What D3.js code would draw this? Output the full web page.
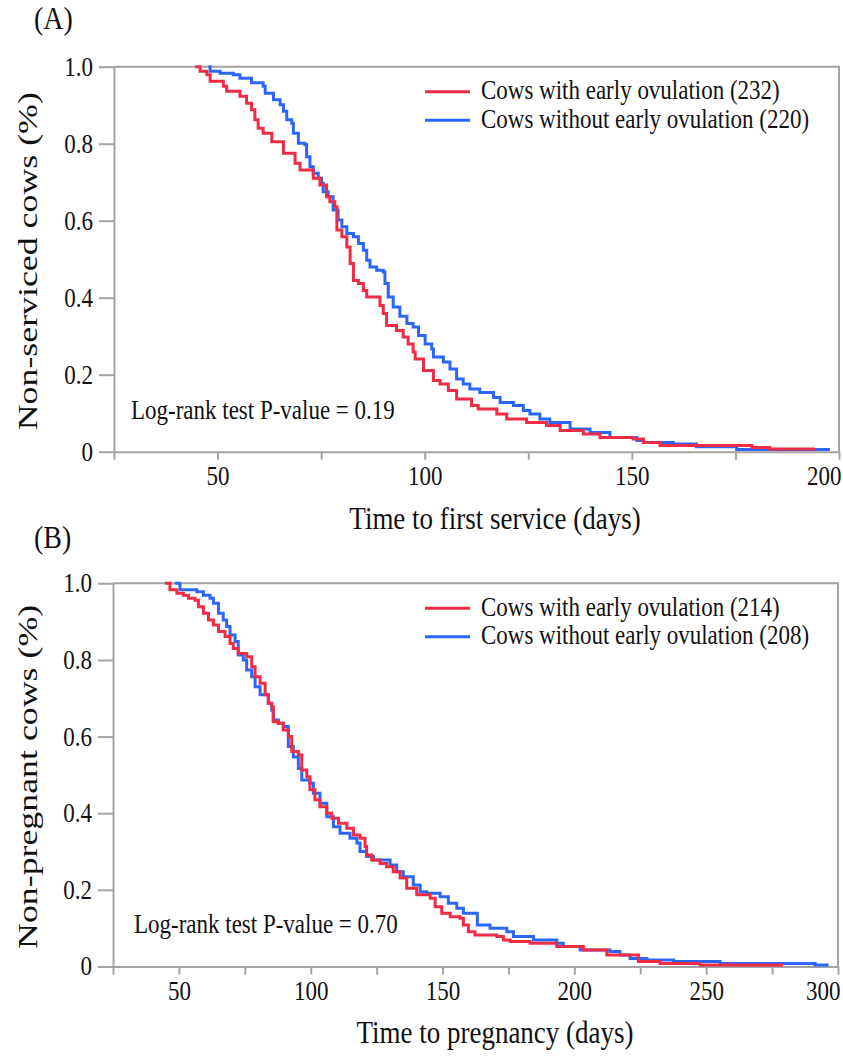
<!DOCTYPE html>
<html>
<head>
<meta charset="utf-8">
<script src="https://cdn.jsdelivr.net/npm/d3@7"></script>
<style>
    body { margin: 0; background: #fff; }
    svg text { font-family: "Liberation Serif", "Times New Roman", serif; fill: #111; }
    .axis path, .axis line { stroke: #a3a3a3; stroke-width: 2; }
    .frame { stroke: #a3a3a3; stroke-width: 2; }
</style>
</head>
<body>
<div id="chart"></div>
<script>
// ---- data: [day, proportion still not serviced / not pregnant]
const yTicks = [0, 0.2, 0.4, 0.6, 0.8, 1.0];
const xTicksA = [25, 50, 75, 100, 125, 150, 175, 200];
const xTicksB = [25, 50, 75, 100, 125, 150, 175, 200, 225, 250, 275, 300];

const legendA = ["Cows with early ovulation (232)", "Cows without early ovulation (220)"];
const legendB = ["Cows with early ovulation (214)", "Cows without early ovulation (208)"];

const earlyA = [[44.6,1],[45.8,0.988],[47.4,0.979],[48.2,0.962],[51.4,0.949],[52.2,0.936],[55.4,0.923],[57.0,0.905],
    [58.2,0.888],[59.0,0.862],[59.8,0.840],[61.0,0.827],[63.1,0.805],[65.9,0.775],[68.7,0.749],[69.9,0.732],
    [73.1,0.710],[74.7,0.693],[76.3,0.662],[77.1,0.649],[78.3,0.636],[78.8,0.576],[80.0,0.558],[81.2,0.532],
    [82.0,0.489],[82.8,0.445],[84.0,0.437],[85.2,0.419],[86.0,0.402],[89.2,0.380],[90.0,0.359],[90.8,0.328],
    [93.2,0.315],[94.8,0.298],[96.0,0.280],[97.2,0.259],[97.7,0.241],[99.7,0.211],[102.1,0.185],[103.7,0.176],
    [105.7,0.159],[107.7,0.137],[111.3,0.120],[112.9,0.111],[117.4,0.098],[119.8,0.085],[124.6,0.076],
    [129.4,0.068],[132.7,0.055],[138.3,0.046],[142.3,0.037],[150.3,0.033],[152.8,0.024],[156.8,0.016],
    [179.0,0.011],[183.3,0.007],[194.2,0.007]];

const noEarlyA = [[47.8,1],[48.2,0.988],[50.6,0.983],[53.8,0.979],[55.4,0.970],[58.2,0.958],[61.0,0.949],
    [61.5,0.931],[63.5,0.914],[65.1,0.901],[65.9,0.884],[66.7,0.862],[67.9,0.853],[68.3,0.827],[69.5,0.801],
    [71.1,0.797],[71.5,0.766],[72.3,0.740],[73.1,0.723],[74.3,0.710],[75.1,0.697],[75.5,0.675],[76.7,0.662],
    [77.9,0.628],[79.1,0.602],[80.0,0.584],[81.2,0.567],[82.8,0.558],[84.0,0.541],[85.2,0.523],[86.0,0.497],
    [86.8,0.480],[88.4,0.471],[90.0,0.467],[90.4,0.437],[91.2,0.402],[92.4,0.376],[94.0,0.352],[95.7,0.333],
    [97.2,0.324],[98.5,0.302],[100.1,0.280],[101.7,0.267],[102.1,0.246],[104.5,0.233],[106.1,0.215],
    [107.7,0.189],[109.3,0.176],[110.9,0.163],[113.3,0.154],[116.6,0.141],[118.2,0.128],[121.4,0.120],
    [123.8,0.107],[125.4,0.098],[127.8,0.085],[130.2,0.076],[135.1,0.059],[139.9,0.050],[144.7,0.037],
    [151.2,0.029],[152.8,0.024],[160.0,0.020],[165.6,0.013],[175.3,0.006],[197.8,0.006]];

const earlyB = [[44.7,1],[46.6,0.983],[49.2,0.974],[51.7,0.969],[53.6,0.961],[56.1,0.956],[57.4,0.939],
    [59.3,0.922],[61.2,0.904],[63.1,0.891],[65.0,0.874],[67.5,0.861],[69.4,0.843],[70.6,0.830],[72.5,0.817],
    [75.7,0.808],[77.6,0.782],[78.9,0.756],[80.8,0.739],[82.7,0.709],[83.9,0.687],[85.2,0.678],[85.8,0.639],
    [87.7,0.635],[89.6,0.617],[91.5,0.600],[92.8,0.561],[95.3,0.552],[96.6,0.513],[98.5,0.495],[99.7,0.461],
    [101.6,0.435],[103.5,0.417],[106.1,0.400],[108.0,0.387],[110.5,0.374],[113.7,0.361],[116.2,0.343],
    [118.7,0.335],[120.6,0.313],[121.2,0.291],[123.1,0.278],[126.3,0.269],[128.8,0.260],[131.3,0.247],
    [133.9,0.231],[136.4,0.204],[140.2,0.187],[145.3,0.178],[147.2,0.156],[149.7,0.139],[152.9,0.130],
    [156.6,0.126],[157.9,0.108],[159.8,0.091],[162.3,0.082],[170.6,0.078],[173.1,0.069],[175.6,0.065],
    [183.2,0.061],[193.3,0.052],[203.4,0.043],[212.3,0.030],[224.3,0.013],[232.5,0.008],[247.7,0.004],
    [279.2,0.004]];

const noEarlyB = [[48.5,1],[50.4,0.983],[56.8,0.978],[59.3,0.969],[61.8,0.961],[63.1,0.948],[65.0,0.922],
    [66.8,0.904],[68.1,0.887],[69.4,0.865],[71.3,0.848],[72.5,0.813],[74.4,0.800],[75.7,0.774],[77.6,0.756],
    [78.9,0.730],[80.8,0.709],[83.9,0.687],[85.2,0.669],[85.8,0.643],[87.7,0.635],[89.6,0.626],[91.5,0.574],
    [93.4,0.547],[95.3,0.517],[96.6,0.487],[99.7,0.478],[101.0,0.452],[103.5,0.426],[106.1,0.391],
    [108.6,0.365],[111.1,0.348],[114.9,0.335],[117.5,0.322],[118.7,0.300],[121.2,0.287],[123.8,0.278],
    [130.1,0.265],[132.6,0.247],[135.1,0.234],[138.9,0.213],[141.5,0.195],[144.0,0.191],[149.1,0.182],
    [152.2,0.165],[155.4,0.152],[157.9,0.139],[163.2,0.108],[168.0,0.100],[174.4,0.091],[176.9,0.078],
    [184.5,0.069],[193.3,0.061],[195.8,0.052],[202.2,0.043],[213.5,0.039],[217.3,0.030],[221.1,0.021],
    [227.5,0.017],[237.6,0.013],[255.3,0.008],[291.3,0.004],[296.4,0.004]];

const colEarly = "#ee2c46";
const colNoEarly = "#2c66f7";

// the original figure's lettering is a bit taller than it is wide
const textStretch = 1.15;

function stretchText(sel, k) {
    sel.each(function () {
        let t = d3.select(this);
        let x = +t.attr("x") || 0, y = +t.attr("y") || 0;
        t.attr("transform", `translate(${x},${y}) scale(1,${k}) translate(${-x},${-y})`);
    });
}

class KMPanel {
    constructor(_svg, _cfg) {
        this.svg = _svg;
        this.cfg = _cfg;
        this.initVis();
    }

    initVis() {
        let vis = this;
        let c = vis.cfg;

        vis.x = d3.scaleLinear().domain([c.xTicks[0], c.xTicks[c.xTicks.length - 1]]).range([c.left, c.right]);
        vis.y = d3.scaleLinear().domain([0, 1]).range([c.bottom, c.top]);

        let g = vis.svg.append("g");

        // panel letter
        g.append("text").attr("class", "st").attr("x", 34).attr("y", c.letterY)
            .style("font-size", "28px").text(c.letter);

        // top + right border
        g.append("path").attr("class", "frame").attr("fill", "none")
            .attr("d", `M${c.left},${c.top}H${c.right}V${c.bottom}`);

        // y axis
        let yAxis = d3.axisLeft(vis.y).tickValues(yTicks).tickSize(15).tickSizeOuter(0).tickPadding(6)
            .tickFormat(d => d === 0 ? "0" : d3.format(".1f")(d));
        g.append("g").attr("class", "axis y-axis")
            .attr("transform", `translate(${c.left},0)`)
            .call(yAxis)
            .selectAll("text").attr("class", "st").style("font-size", "23px").attr("fill", "#111");

        // x axis, labels only every 50 days
        let last = c.xTicks[c.xTicks.length - 1];
        let xAxis = d3.axisBottom(vis.x).tickValues(c.xTicks).tickSize(8).tickSizeOuter(0).tickPadding(7)
            .tickFormat(d => d % 50 === 0 ? d : "");
        let xg = g.append("g").attr("class", "axis x-axis")
            .attr("transform", `translate(0,${c.bottom})`)
            .call(xAxis);
        xg.selectAll("text").attr("class", "st").style("font-size", "23px").attr("fill", "#111");
        xg.selectAll(".tick").filter(d => d === last).select("text")
            .attr("text-anchor", "end").attr("dx", 2);

        // axis titles
        g.append("text").attr("class", "st").attr("x", 495).attr("y", c.bottom + c.titleGap)
            .attr("text-anchor", "middle").style("font-size", "27px").text(c.xTitle);
        g.append("text")
            .attr("transform", `translate(37,${(c.top + c.bottom) / 2 + 2}) scale(1,1.28) rotate(-90)`)
            .attr("text-anchor", "middle").style("font-size", "28px").text(c.yTitle);

        // p-value note
        g.append("text").attr("class", "st").attr("x", c.left + c.noteDx).attr("y", c.bottom - 33)
            .style("font-size", "23px").text(c.note);

        // legend
        let leg = g.selectAll(".legend-item")
            .data([{ label: c.legend[0], color: colEarly }, { label: c.legend[1], color: colNoEarly }])
            .enter().append("g")
            .attr("class", "legend-item")
            .attr("transform", (d, i) => `translate(425,${c.top + 25 + i * 28.5})`);
        leg.append("line").attr("x1", 0).attr("x2", 45)
            .attr("stroke", d => d.color).attr("stroke-width", 3);
        leg.append("text").attr("class", "st").attr("x", 56).attr("y", 7.5)
            .style("font-size", "23px").text(d => d.label);

        stretchText(g.selectAll("text.st"), textStretch);

        vis.updateVis();
    }

    updateVis() {
        let vis = this;
        let line = d3.line()
            .x(d => vis.x(d[0]))
            .y(d => vis.y(d[1]))
            .curve(d3.curveStepAfter);

        // blue underneath, red on top
        vis.svg.append("path").datum(vis.cfg.noEarly)
            .attr("fill", "none").attr("stroke", colNoEarly).attr("stroke-width", 3)
            .attr("d", line);
        vis.svg.append("path").datum(vis.cfg.early)
            .attr("fill", "none").attr("stroke", colEarly).attr("stroke-width", 3)
            .attr("d", line);
    }
}

let svg = d3.select("#chart").append("svg")
    .attr("width", 843)
    .attr("height", 1056);

new KMPanel(svg, {
    letter: "(A)", letterY: 29, left: 114, right: 839, top: 66.7, bottom: 451.7,
    xTicks: xTicksA, titleGap: 77, noteDx: 17,
    xTitle: "Time to first service (days)", yTitle: "Non-serviced cows (%)",
    note: "Log-rank test P-value = 0.19", legend: legendA,
    early: earlyA, noEarly: noEarlyA
});

new KMPanel(svg, {
    letter: "(B)", letterY: 548, left: 113, right: 838, top: 583.3, bottom: 966.5,
    xTicks: xTicksB, titleGap: 77, noteDx: 21,
    xTitle: "Time to pregnancy (days)", yTitle: "Non-pregnant cows (%)",
    note: "Log-rank test P-value = 0.70", legend: legendB,
    early: earlyB, noEarly: noEarlyB
});
</script>
</body>
</html>
